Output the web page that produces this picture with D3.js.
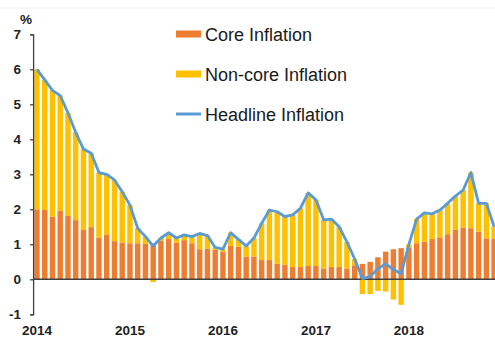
<!DOCTYPE html>
<html>
<head>
<meta charset="utf-8">
<script src="https://cdn.jsdelivr.net/npm/d3@7/dist/d3.min.js"></script>
<style>
  html, body { margin: 0; padding: 0; background: #fff; }
  svg { display: block; font-family: "Liberation Sans", Arial, sans-serif; }
</style>
</head>
<body>
<svg id="chart" width="495" height="338"></svg>
<script>
// ---- Data (monthly, Jan 2014 – Dec 2018) ----
const years = ["2014", "2015", "2016", "2017", "2018"];
const core = [
  2.00, 1.98, 1.79, 1.96, 1.81, 1.69, 1.41, 1.49, 1.19, 1.27, 1.09, 1.05,
  1.03, 1.03, 1.01, 1.03, 1.10, 1.15, 1.05, 1.12, 1.03, 0.86, 0.88, 0.84,
  0.79, 0.95, 0.93, 0.65, 0.65, 0.55, 0.55, 0.44, 0.42, 0.35, 0.35, 0.38,
  0.38, 0.31, 0.35, 0.35, 0.31, 0.40, 0.44, 0.50, 0.63, 0.79, 0.86, 0.89,
  0.91, 1.03, 1.07, 1.15, 1.20, 1.29, 1.41, 1.47, 1.46, 1.36, 1.17, 1.15
];
const nonCore = [
  4.00, 3.72, 3.61, 3.29, 2.94, 2.51, 2.31, 2.11, 1.86, 1.73, 1.75, 1.45,
  1.09, 0.43, 0.21, -0.08, 0.08, 0.18, 0.13, 0.15, 0.19, 0.45, 0.37, 0.07,
  0.07, 0.38, 0.21, 0.30, 0.53, 1.05, 1.43, 1.49, 1.37, 1.49, 1.68, 2.09,
  1.89, 1.39, 1.37, 1.15, 0.76, 0.18, -0.42, -0.42, -0.33, -0.35, -0.58, -0.73,
  0.09, 0.69, 0.83, 0.72, 0.78, 0.88, 0.97, 1.08, 1.59, 0.81, 1.00, 0.35
];
const headline = [
  6.00, 5.70, 5.40, 5.25, 4.75, 4.20, 3.72, 3.60, 3.05, 3.00, 2.84, 2.50,
  2.12, 1.46, 1.22, 0.95, 1.18, 1.33, 1.18, 1.27, 1.22, 1.31, 1.25, 0.91,
  0.86, 1.33, 1.14, 0.95, 1.18, 1.60, 1.98, 1.93, 1.79, 1.84, 2.03, 2.47,
  2.27, 1.70, 1.72, 1.50, 1.07, 0.58, 0.02, 0.08, 0.30, 0.44, 0.28, 0.16,
  1.00, 1.72, 1.90, 1.87, 1.98, 2.17, 2.38, 2.55, 3.05, 2.17, 2.17, 1.50
];
const yTicks = [-1, 0, 1, 2, 3, 4, 5, 6, 7];
const seriesNames = ["Core Inflation", "Non-core Inflation", "Headline Inflation"];
const colors = { core: "#ED7D31", nonCore: "#FFC000", headline: "#5B9BD5" };

// ---- Build table ----
const months = d3.range(core.length);
const table = months.map(i => ({ i, core: core[i], nonCore: nonCore[i] }));

const svg = d3.select("#chart");

const x = d3.scaleBand()
  .domain(months)
  .range([33.1, 498])
  .paddingInner(0.3)
  .paddingOuter(0.15);

const y = d3.scaleLinear().domain([-1, 7]).range([314.3, 34.3]);

// faint top rule
svg.append("line").attr("x1", 0).attr("x2", 495).attr("y1", 8).attr("y2", 8)
  .attr("stroke", "#f0f0f0").attr("stroke-width", 1);

// ---- Stacked bars ----
const stack = d3.stack().keys(["core", "nonCore"]).offset(d3.stackOffsetDiverging);
const layers = stack(table);
const layerColor = [colors.core, colors.nonCore];

svg.append("g").selectAll("g")
  .data(layers)
  .join("g")
  .attr("fill", (d, k) => layerColor[k])
  .selectAll("rect")
  .data(d => d)
  .join("rect")
  .attr("x", d => x(d.data.i))
  .attr("width", x.bandwidth())
  .attr("y", d => y(Math.max(d[0], d[1])))
  .attr("height", d => Math.abs(y(d[0]) - y(d[1])));

// ---- Y axis ----
const yAxis = d3.axisLeft(y).tickValues(yTicks).tickSize(3).tickPadding(9).tickFormat(d => String(d));
const gy = svg.append("g").attr("transform", "translate(33.1,0)").call(yAxis);
gy.select(".domain").attr("stroke", "#404040").attr("stroke-width", 1.3);
gy.selectAll(".tick line").attr("stroke", "#404040").attr("stroke-width", 1.3);
gy.selectAll(".tick text")
  .attr("font-size", 13.5).attr("font-weight", "bold").attr("fill", "#222")
  .attr("font-family", "Liberation Sans, Arial, sans-serif");

// zero line
svg.append("line")
  .attr("x1", 33.1).attr("x2", 495)
  .attr("y1", y(0)).attr("y2", y(0))
  .attr("stroke", "#404040").attr("stroke-width", 1.5);

// % label
svg.append("text").attr("x", 26).attr("y", 24)
  .attr("text-anchor", "middle").attr("font-size", 13.5).attr("font-weight", "bold")
  .attr("fill", "#222").text("%");

// ---- X labels (years at January) ----
svg.append("g").selectAll("text")
  .data(years)
  .join("text")
  .attr("x", (d, k) => x(k * 12) + x.bandwidth() / 2)
  .attr("y", 335)
  .attr("text-anchor", "middle")
  .attr("font-size", 13.5).attr("font-weight", "bold").attr("fill", "#222")
  .text(d => d);

// ---- Headline line ----
const line = d3.line()
  .x((d, i) => x(i) + x.bandwidth() / 2)
  .y(d => y(d));
svg.append("path")
  .datum(headline)
  .attr("d", line)
  .attr("fill", "none")
  .attr("stroke", colors.headline)
  .attr("stroke-width", 2.8)
  .attr("stroke-linejoin", "round");

// ---- Legend ----
const legend = svg.append("g");
const legY = [34, 74, 114];
const legColors = [colors.core, colors.nonCore, colors.headline];
seriesNames.forEach((name, k) => {
  const g = legend.append("g").attr("transform", `translate(176,${legY[k]})`);
  if (k < 2) {
    g.append("rect").attr("x", 0).attr("y", -3.5).attr("width", 25).attr("height", 7).attr("fill", legColors[k]);
  } else {
    g.append("line").attr("x1", 0).attr("x2", 25).attr("y1", 0).attr("y2", 0)
      .attr("stroke", legColors[k]).attr("stroke-width", 3);
  }
  g.append("text").attr("x", 29).attr("y", 6.5)
    .attr("font-size", 18).attr("fill", "#1a1a1a").text(name);
});
</script>
</body>
</html>
